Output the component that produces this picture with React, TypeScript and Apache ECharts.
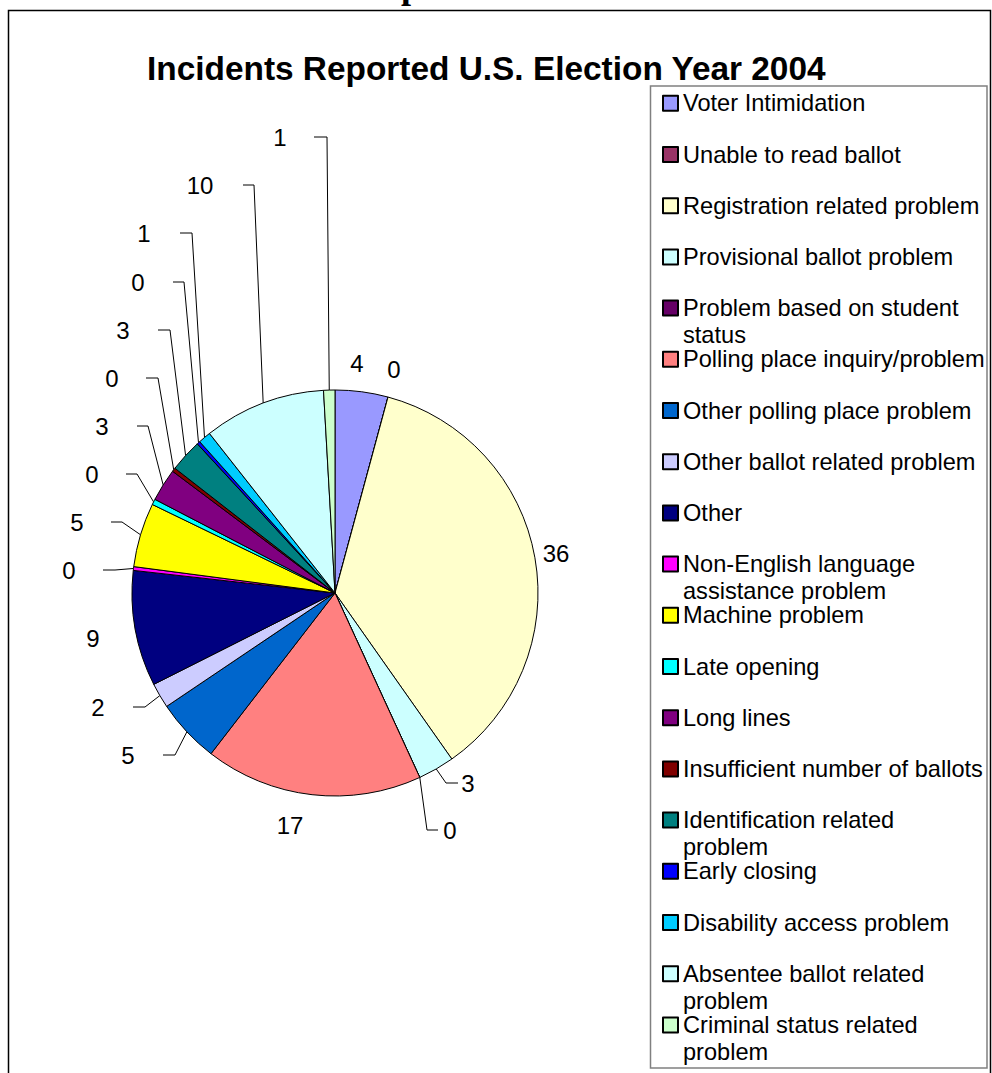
import React, { useEffect, useRef } from "react";
import * as echarts from "echarts";

// Incident categories, in pie order (clockwise from 12 o'clock)
const categories = [
  "Voter Intimidation",
  "Unable to read ballot",
  "Registration related problem",
  "Provisional ballot problem",
  "Problem based on student status",
  "Polling place inquiry/problem",
  "Other polling place problem",
  "Other ballot related problem",
  "Other",
  "Non-English language assistance problem",
  "Machine problem",
  "Late opening",
  "Long lines",
  "Insufficient number of ballots",
  "Identification related problem",
  "Early closing",
  "Disability access problem",
  "Absentee ballot related problem",
  "Criminal status related problem",
];

// Share of reported incidents (percent); labels show the rounded value
const incidentShares = [
  4.2, 0, 36.0, 2.9, 0, 17.3, 5.1, 2.0, 9.2, 0.3, 5.1, 0.45, 2.6, 0.3, 2.6, 0.25, 1.0, 9.7, 0.9,
];

const sliceColors = [
  "#9999FF", "#993366", "#FFFFCC", "#CCFFFF", "#660066", "#FF8080", "#0066CC",
  "#CCCCFF", "#000080", "#FF00FF", "#FFFF00", "#00FFFF", "#800080", "#800000",
  "#008080", "#0000FF", "#00CCFF", "#CCFFFF", "#CCFFCC",
];

// Legend entries that wrap onto a second line
const legendWrap: Record<string, string[]> = {
  "Problem based on student status": ["Problem based on student", "status"],
  "Non-English language assistance problem": ["Non-English language", "assistance problem"],
  "Identification related problem": ["Identification related", "problem"],
  "Absentee ballot related problem": ["Absentee ballot related", "problem"],
  "Criminal status related problem": ["Criminal status related", "problem"],
};

// Data-label placement: text centre, and for leader lines the elbow / end x
type Spot = { x: number; y: number; elbow?: number; end?: number };
const labelSpots: Spot[] = [
  { x: 357, y: 363 },
  { x: 394, y: 369 },
  { x: 556, y: 553 },
  { x: 468, y: 783, elbow: 446, end: 458 },
  { x: 450, y: 830, elbow: 427, end: 438 },
  { x: 290, y: 825 },
  { x: 128, y: 755, elbow: 175, end: 163 },
  { x: 98, y: 707, elbow: 145, end: 133 },
  { x: 93, y: 638 },
  { x: 69, y: 570, elbow: 115, end: 103 },
  { x: 77, y: 522, elbow: 122, end: 111 },
  { x: 92, y: 474, elbow: 137, end: 126 },
  { x: 102, y: 426, elbow: 148, end: 137 },
  { x: 112, y: 378, elbow: 158, end: 146 },
  { x: 123, y: 330, elbow: 170, end: 158 },
  { x: 138, y: 282, elbow: 184, end: 173 },
  { x: 144, y: 233, elbow: 192, end: 180 },
  { x: 200, y: 185, elbow: 254, end: 243 },
  { x: 280, y: 137, elbow: 327, end: 314 },
];

const FONT = '"Liberation Sans", Arial, Helvetica, sans-serif';
const LEGEND_FONT = 23.6;
const LEGEND_LINE = 27;
const LEGEND_FIRST = 103.3; // centre of the first legend swatch
const LEGEND_STEP = 51.2;
const LEGEND_TEXT_X = 683;

export default function App() {
  const ref = useRef<HTMLDivElement>(null);

  useEffect(() => {
    if (!ref.current) return;
    const chart = echarts.init(ref.current, null, { renderer: "svg" });

    // continuation lines of the wrapped legend entries
    const wrapTexts = categories
      .map((name, i) => ({ name, i }))
      .filter(({ name }) => legendWrap[name])
      .map(({ name, i }) => ({
        type: "text",
        silent: true,
        x: LEGEND_TEXT_X,
        y: LEGEND_FIRST + i * LEGEND_STEP + LEGEND_LINE,
        style: {
          text: legendWrap[name].slice(1).join("\n"),
          font: `${LEGEND_FONT}px ${FONT}`,
          fill: "#000",
          align: "left",
          verticalAlign: "middle",
        },
      }));

    const option: any = {
      animation: false,
      backgroundColor: "#ffffff",
      title: {
        text: "Incidents Reported U.S. Election Year 2004",
        left: 147,
        top: 51.5,
        padding: 0,
        textStyle: { fontFamily: FONT, fontSize: 33.4, fontWeight: "bold", color: "#000" },
      },
      legend: {
        orient: "vertical",
        left: 662,
        top: LEGEND_FIRST - LEGEND_LINE / 2,
        padding: 0,
        itemWidth: 15,
        itemHeight: 15,
        itemGap: LEGEND_STEP - LEGEND_LINE,
        icon: "rect",
        selectedMode: false,
        data: categories,
        formatter: (name: string) => (legendWrap[name] ?? [name])[0],
        textStyle: {
          fontFamily: FONT,
          fontSize: LEGEND_FONT,
          color: "#000",
          lineHeight: LEGEND_LINE,
        },
      },
      graphic: [
        {
          type: "rect",
          silent: true,
          shape: { x: 8.5, y: 10.5, width: 982, height: 1090 },
          style: { fill: "none", stroke: "#000", lineWidth: 1.5 },
        },
        {
          type: "rect",
          silent: true,
          shape: { x: 650.5, y: 86, width: 336.5, height: 982 },
          style: { fill: "none", stroke: "#808080", lineWidth: 1.5 },
        },
        {
          type: "text",
          silent: true,
          x: 401,
          y: -14,
          style: {
            text: "p",
            font: 'bold 36px "Liberation Serif", "Times New Roman", serif',
            fill: "#000",
            align: "left",
            verticalAlign: "middle",
          },
        },
        ...wrapTexts,
      ],
      series: [
        {
          type: "pie",
          center: [335, 593],
          radius: 203,
          startAngle: 90,
          clockwise: true,
          avoidLabelOverlap: false,
          emphasis: { disabled: true },
          itemStyle: { borderColor: "#000", borderWidth: 1 },
          label: {
            show: true,
            position: "outside",
            fontFamily: FONT,
            fontSize: 24,
            color: "#000",
            formatter: (p: any) => String(Math.round(p.value)),
          },
          labelLine: {
            show: true,
            length: 10,
            length2: 10,
            lineStyle: { color: "#000", width: 1 },
          },
          labelLayout: (params: any) => {
            const spot = labelSpots[params.dataIndex];
            const out: any = { x: spot.x, y: spot.y, align: "center", verticalAlign: "middle" };
            if (spot.end != null && params.labelLinePoints) {
              const rim = params.labelLinePoints[0];
              out.labelLinePoints = [rim, [spot.elbow, spot.y], [spot.end, spot.y]];
            }
            return out;
          },
          data: categories.map((name, i) => ({
            name,
            value: incidentShares[i],
            itemStyle: { color: sliceColors[i] },
            labelLine: { show: labelSpots[i].end != null },
          })),
        },
      ],
    };

    chart.setOption(option);
    return () => chart.dispose();
  }, []);

  return (
    <div
      ref={ref}
      style={{ position: "fixed", left: 0, top: 0, width: 992, height: 1073, background: "#fff" }}
    />
  );
}
